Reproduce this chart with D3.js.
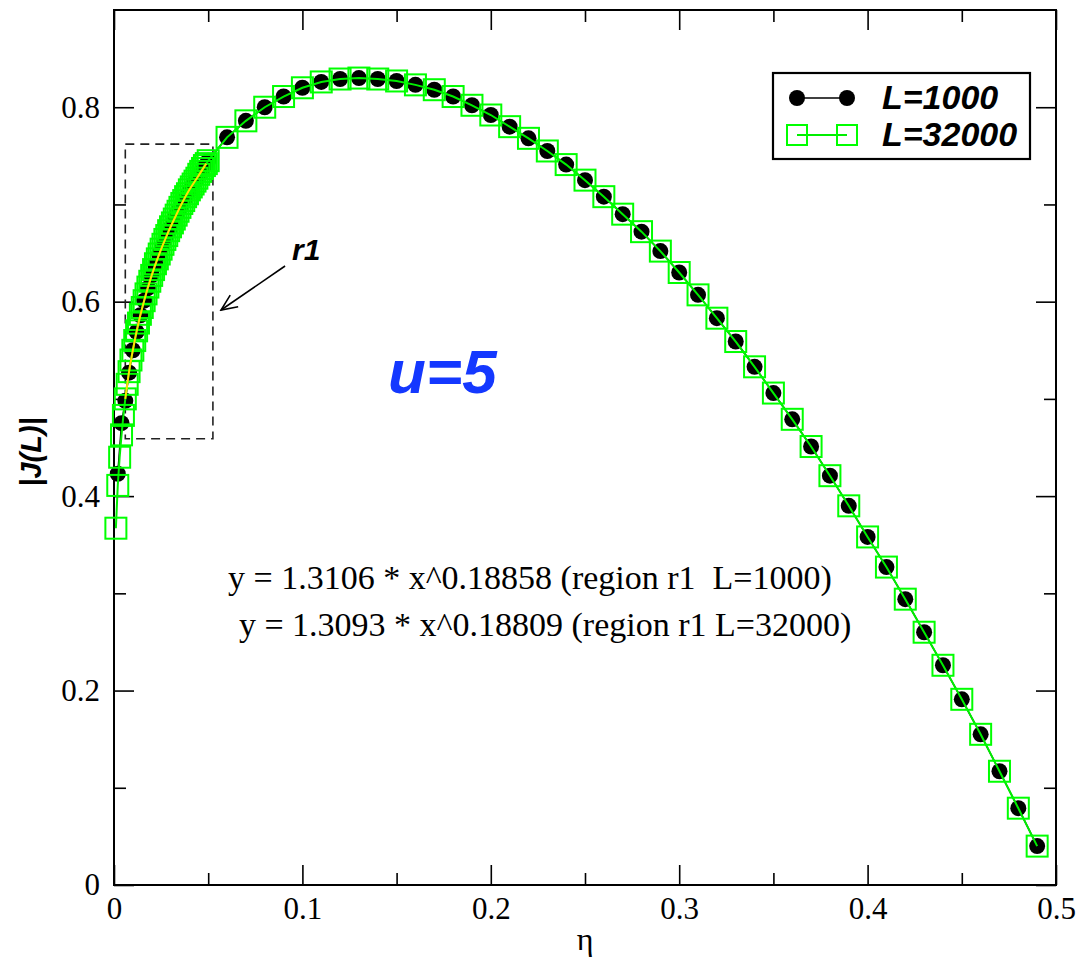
<!DOCTYPE html>
<html>
<head>
<meta charset="utf-8">
<script src="https://cdn.jsdelivr.net/npm/d3@7"></script>
<style>
  body { margin: 0; background: #fff; }
  svg { display: block; }
</style>
</head>
<body>
<div id="chart"></div>
<script>
// data
const etaMain = [0.06, 0.07, 0.08, 0.09, 0.10, 0.11, 0.12, 0.13, 0.14, 0.15,
  0.16, 0.17, 0.18, 0.19, 0.20, 0.21, 0.22, 0.23, 0.24, 0.25,
  0.26, 0.27, 0.28, 0.29, 0.30, 0.31, 0.32, 0.33, 0.34, 0.35,
  0.36, 0.37, 0.38, 0.39, 0.40, 0.41, 0.42, 0.43, 0.44, 0.45,
  0.46, 0.47, 0.48, 0.49];
const jMain1000 = [0.769, 0.786, 0.800, 0.811, 0.820, 0.826, 0.829, 0.830, 0.829, 0.827,
  0.823, 0.818, 0.811, 0.802, 0.792, 0.780, 0.768, 0.755, 0.741, 0.725,
  0.708, 0.690, 0.672, 0.652, 0.630, 0.607, 0.583, 0.559, 0.533, 0.506,
  0.479, 0.451, 0.421, 0.390, 0.358, 0.327, 0.294, 0.260, 0.226, 0.191,
  0.155, 0.117, 0.079, 0.040];
const jMain32000 = [0.769, 0.786, 0.800, 0.811, 0.820, 0.826, 0.829, 0.830, 0.829, 0.827,
  0.823, 0.818, 0.811, 0.802, 0.792, 0.780, 0.768, 0.755, 0.741, 0.725,
  0.708, 0.690, 0.672, 0.652, 0.630, 0.607, 0.583, 0.559, 0.533, 0.506,
  0.479, 0.451, 0.421, 0.390, 0.358, 0.327, 0.294, 0.260, 0.226, 0.191,
  0.155, 0.117, 0.079, 0.040];

// region r1, L=1000
const etaLow1000 = [0.002, 0.004, 0.006, 0.008, 0.010, 0.012, 0.014, 0.016, 0.018, 0.020,
  0.022, 0.024, 0.026, 0.028, 0.030, 0.032, 0.034, 0.036, 0.038, 0.040,
  0.042, 0.044, 0.046, 0.048, 0.050];
const jLow1000 = [0.423, 0.475, 0.498, 0.527, 0.550, 0.569, 0.586, 0.601, 0.614, 0.627,
  0.638, 0.649, 0.658, 0.668, 0.676, 0.685, 0.693, 0.700, 0.707, 0.714,
  0.721, 0.727, 0.733, 0.739, 0.745];

// region r1, L=32000
const etaLow32000 = [0.001, 0.002, 0.003, 0.004, 0.005, 0.006, 0.007, 0.008, 0.009, 0.010,
  0.011, 0.012, 0.013, 0.014, 0.015, 0.016, 0.017, 0.018, 0.019, 0.020,
  0.021, 0.022, 0.023, 0.024, 0.025, 0.026, 0.027, 0.028, 0.029, 0.030,
  0.031, 0.032, 0.033, 0.034, 0.035, 0.036, 0.037, 0.038, 0.039, 0.040,
  0.041, 0.042, 0.043, 0.044, 0.045, 0.046, 0.047, 0.048, 0.049, 0.050];
const jLow32000 = [0.367, 0.411, 0.440, 0.463, 0.483, 0.500, 0.515, 0.528, 0.540, 0.550,
  0.560, 0.570, 0.578, 0.587, 0.594, 0.601, 0.608, 0.615, 0.621, 0.627,
  0.633, 0.639, 0.644, 0.649, 0.654, 0.659, 0.664, 0.668, 0.673, 0.677,
  0.681, 0.685, 0.689, 0.693, 0.697, 0.701, 0.704, 0.708, 0.711, 0.715,
  0.718, 0.721, 0.724, 0.727, 0.731, 0.734, 0.737, 0.740, 0.742, 0.745];

// yellow fit curve through region r1
const etaFit = [0.006, 0.008, 0.010, 0.013, 0.016, 0.020, 0.024, 0.028, 0.032, 0.036, 0.040, 0.044, 0.049];
const jFit = [0.500, 0.528, 0.550, 0.578, 0.601, 0.627, 0.649, 0.668, 0.685, 0.701, 0.715, 0.727, 0.742];

const xMajor = [0, 0.1, 0.2, 0.3, 0.4, 0.5];
const xMinor = [0.05, 0.15, 0.25, 0.35, 0.45];
const yMajor = [0, 0.2, 0.4, 0.6, 0.8];
const yMinor = [0.1, 0.3, 0.5, 0.7];

const series1000 = etaLow1000.map((e, i) => ({x: e, y: jLow1000[i]}))
  .concat(etaMain.map((e, i) => ({x: e, y: jMain1000[i]})));
const series32000 = etaLow32000.map((e, i) => ({x: e, y: jLow32000[i]}))
  .concat(etaMain.map((e, i) => ({x: e, y: jMain32000[i]})));
const fitLine = etaFit.map((e, i) => ({x: e, y: jFit[i]}));

// set the dimensions and margins of the graph
const margin = {top: 10, right: 27, bottom: 74, left: 114},
    width = 1083 - margin.left - margin.right,
    height = 959 - margin.top - margin.bottom;

const root = d3.select("#chart")
  .append("svg")
    .attr("width", width + margin.left + margin.right)
    .attr("height", height + margin.top + margin.bottom);

const svg = root.append("g")
    .attr("transform", `translate(${margin.left}, ${margin.top})`);

const x = d3.scaleLinear().domain([0, 0.5]).range([0, width]);
const y = d3.scaleLinear().domain([0, 0.9]).range([height, 0]);

const fmt = d => d === 0 ? "0" : d3.format(".1f")(d);
const serif = "'Liberation Serif', 'Times New Roman', serif";
const sans = "'Liberation Sans', Arial, Helvetica, sans-serif";

function styleAxis(g) {
  g.select(".domain").remove();
  g.selectAll("line").attr("stroke", "#000").attr("stroke-width", 1.6);
  g.selectAll("text").attr("font-family", serif).attr("font-size", 31).attr("fill", "#000");
}

// bottom / left axes with labels, ticks pointing inward
svg.append("g")
  .attr("transform", `translate(0, ${height})`)
  .call(d3.axisBottom(x).tickValues(xMajor).tickFormat(fmt).tickSizeInner(-20).tickSizeOuter(0).tickPadding(12))
  .call(styleAxis);
svg.append("g")
  .attr("transform", `translate(0, ${height})`)
  .call(d3.axisBottom(x).tickValues(xMinor).tickFormat("").tickSizeInner(-12).tickSizeOuter(0))
  .call(styleAxis);
svg.append("g")
  .call(d3.axisLeft(y).tickValues(yMajor).tickFormat(fmt).tickSizeInner(-20).tickSizeOuter(0).tickPadding(14))
  .call(styleAxis);
svg.append("g")
  .call(d3.axisLeft(y).tickValues(yMinor).tickFormat("").tickSizeInner(-12).tickSizeOuter(0))
  .call(styleAxis);

// mirrored top / right ticks
svg.append("g")
  .call(d3.axisTop(x).tickValues(xMajor).tickFormat("").tickSizeInner(-20).tickSizeOuter(0))
  .call(styleAxis);
svg.append("g")
  .call(d3.axisTop(x).tickValues(xMinor).tickFormat("").tickSizeInner(-12).tickSizeOuter(0))
  .call(styleAxis);
svg.append("g")
  .attr("transform", `translate(${width}, 0)`)
  .call(d3.axisRight(y).tickValues(yMajor).tickFormat("").tickSizeInner(-20).tickSizeOuter(0))
  .call(styleAxis);
svg.append("g")
  .attr("transform", `translate(${width}, 0)`)
  .call(d3.axisRight(y).tickValues(yMinor).tickFormat("").tickSizeInner(-12).tickSizeOuter(0))
  .call(styleAxis);

// frame
svg.append("rect")
  .attr("x", 0).attr("y", 0)
  .attr("width", width).attr("height", height)
  .attr("fill", "none")
  .attr("stroke", "#000")
  .attr("stroke-width", 2);

// axis labels
svg.append("text")
  .attr("x", width / 2)
  .attr("y", height + 65)
  .attr("text-anchor", "middle")
  .attr("font-family", serif)
  .attr("font-size", 32)
  .text("η");

root.append("text")
  .attr("transform", "translate(41, 452) rotate(-90)")
  .attr("text-anchor", "middle")
  .attr("font-family", sans)
  .attr("font-weight", "bold")
  .attr("font-style", "italic")
  .attr("font-size", 29)
  .text("|J(L)|");

// region r1 dashed box
svg.append("rect")
  .attr("x", x(0.006))
  .attr("y", y(0.762))
  .attr("width", x(0.0525) - x(0.006))
  .attr("height", y(0.459) - y(0.762))
  .attr("fill", "none")
  .attr("stroke", "#222")
  .attr("stroke-width", 1.6)
  .attr("stroke-dasharray", "9,6");

// L=1000 : black line + filled circles
const line = d3.line().x(d => x(d.x)).y(d => y(d.y));
svg.append("path")
  .datum(series1000)
  .attr("fill", "none")
  .attr("stroke", "#000")
  .attr("stroke-width", 1.5)
  .attr("d", line);
svg.selectAll("circle.l1000")
  .data(series1000)
  .join("circle")
  .attr("class", "l1000")
  .attr("cx", d => x(d.x))
  .attr("cy", d => y(d.y))
  .attr("r", 8)
  .attr("fill", "#000");

// L=32000 : green line + open squares
const sq = 21;
svg.append("path")
  .datum(series32000)
  .attr("fill", "none")
  .attr("stroke", "#00ee00")
  .attr("stroke-width", 2)
  .attr("d", line);
svg.selectAll("rect.l32000")
  .data(series32000)
  .join("rect")
  .attr("class", "l32000")
  .attr("x", d => x(d.x) - sq / 2)
  .attr("y", d => y(d.y) - sq / 2)
  .attr("width", sq)
  .attr("height", sq)
  .attr("fill", "none")
  .attr("stroke", "#00ff00")
  .attr("stroke-width", 2);

// fit curve
svg.append("path")
  .datum(fitLine)
  .attr("fill", "none")
  .attr("stroke", "#ffe000")
  .attr("stroke-width", 2)
  .attr("d", d3.line().curve(d3.curveMonotoneX).x(d => x(d.x)).y(d => y(d.y)));

// arrow and r1 label
const defs = root.append("defs");
defs.append("marker")
  .attr("id", "arrow")
  .attr("viewBox", "0 0 20 20")
  .attr("refX", 18).attr("refY", 10)
  .attr("markerWidth", 20).attr("markerHeight", 20)
  .attr("markerUnits", "userSpaceOnUse")
  .attr("orient", "auto")
  .append("path")
    .attr("d", "M2,3 L18,10 L2,17")
    .attr("fill", "none")
    .attr("stroke", "#000")
    .attr("stroke-width", 1.6);

svg.append("line")
  .attr("x1", x(0.0908)).attr("y1", y(0.6367))
  .attr("x2", x(0.0568)).attr("y2", y(0.5914))
  .attr("stroke", "#000")
  .attr("stroke-width", 1.6)
  .attr("marker-end", "url(#arrow)");

svg.append("text")
  .attr("x", x(0.0945)).attr("y", y(0.643))
  .attr("font-family", sans)
  .attr("font-weight", "bold")
  .attr("font-style", "italic")
  .attr("font-size", 30)
  .text("r1");

svg.append("text")
  .attr("x", x(0.1455)).attr("y", y(0.506))
  .attr("font-family", sans)
  .attr("font-weight", "bold")
  .attr("font-style", "italic")
  .attr("font-size", 62)
  .attr("fill", "#1438ff")
  .text("u=5");

// fit equations
svg.append("text")
  .attr("x", x(0.0605)).attr("y", y(0.3045))
  .attr("font-family", serif)
  .attr("font-size", 34)
  .style("white-space", "pre")
  .text("y = 1.3106 * x^0.18858 (region r1  L=1000)");
svg.append("text")
  .attr("x", x(0.0663)).attr("y", y(0.256))
  .attr("font-family", serif)
  .attr("font-size", 34)
  .text("y = 1.3093 * x^0.18809 (region r1 L=32000)");

// legend
const legend = root.append("g").attr("transform", "translate(773, 73)");
legend.append("rect")
  .attr("width", 257).attr("height", 86)
  .attr("fill", "#fff")
  .attr("stroke", "#000")
  .attr("stroke-width", 2.2);

const legendItems = ["L=1000", "L=32000"];
const rowY = [25, 62];

legend.append("line")
  .attr("x1", 24).attr("x2", 74).attr("y1", rowY[0]).attr("y2", rowY[0])
  .attr("stroke", "#000").attr("stroke-width", 1.5);
legend.selectAll("circle")
  .data([24, 74])
  .join("circle")
  .attr("cx", d => d).attr("cy", rowY[0]).attr("r", 8).attr("fill", "#000");

legend.append("line")
  .attr("x1", 24).attr("x2", 74).attr("y1", rowY[1]).attr("y2", rowY[1])
  .attr("stroke", "#00ee00").attr("stroke-width", 2);
legend.selectAll("rect.sym")
  .data([24, 74])
  .join("rect")
  .attr("class", "sym")
  .attr("x", d => d - 10).attr("y", rowY[1] - 10)
  .attr("width", 20).attr("height", 20)
  .attr("fill", "none").attr("stroke", "#00ff00").attr("stroke-width", 2);

legend.selectAll("text")
  .data(legendItems)
  .join("text")
  .attr("x", 109)
  .attr("y", (d, i) => rowY[i] + 11)
  .attr("font-family", sans)
  .attr("font-weight", "bold")
  .attr("font-style", "italic")
  .attr("font-size", 34)
  .text(d => d);
</script>
</body>
</html>
